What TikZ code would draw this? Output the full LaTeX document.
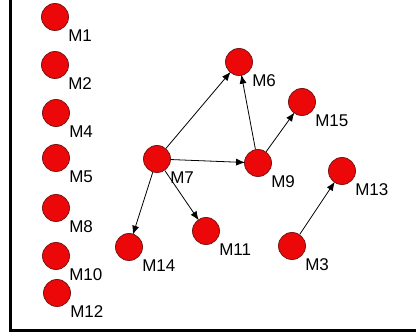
\documentclass[tikz,border=0pt]{standalone}
\usepackage{fontspec}
\setmainfont{Liberation Sans}
\usetikzlibrary{arrows.meta}
\definecolor{mred}{RGB}{236,8,8}
\definecolor{mrim}{RGB}{120,20,20}
\begin{document}
\begin{tikzpicture}[
		x=1pt, y=-1pt,
		mnode/.style={circle, draw=mrim, fill=mred, line width=0.8pt, minimum size=27pt, inner sep=0pt},
		every label/.style={anchor=west, inner sep=0pt, font=\fontsize{17}{20}\selectfont},
		label distance=9pt,
		arrow/.style={-{Latex[length=9pt,width=7pt]}, line width=0.8pt, shorten >=-1pt},
	]
	\useasboundingbox (0,0) rectangle (416,336);
	% frame on the left and at the bottom
	\draw[line width=3pt] (10,0) -- (10,330.5) -- (416,330.5);

	% column of single nodes
	\node[mnode, label={-55:M1}]  (m1)  at (55, 17)  {};
	\node[mnode, label={-55:M2}]  (m2)  at (55, 65)  {};
	\node[mnode, label={-55:M4}]  (m4)  at (56, 113) {};
	\node[mnode, label={-55:M5}]  (m5)  at (56, 158) {};
	\node[mnode, label={-55:M8}]  (m8)  at (56, 208) {};
	\node[mnode, label={-55:M10}] (m10) at (56, 256) {};
	\node[mnode, label={-55:M12}] (m12) at (57, 293) {};

	% connected nodes
	\node[mnode, label={-55:M7}]  (m7)  at (157, 159) {};
	\node[mnode, label={-55:M6}]  (m6)  at (239, 62)  {};
	\node[mnode, label={-55:M15}] (m15) at (302, 102) {};
	\node[mnode, label={-55:M9}]  (m9)  at (258, 163) {};
	\node[mnode, label={-55:M13}] (m13) at (342, 171) {};
	\node[mnode, label={-55:M14}] (m14) at (129, 247) {};
	\node[mnode, label={-55:M11}] (m11) at (206, 231) {};
	\node[mnode, label={-55:M3}]  (m3)  at (292, 246) {};

	\draw[arrow] (m7) -- (m6);
	\draw[arrow] (m7) -- (m9);
	\draw[arrow] (m9) -- (m6);
	\draw[arrow] (m9) -- (m15);
	\draw[arrow] (m7) -- (m14);
	\draw[arrow] (m7) -- (m11);
	\draw[arrow] (m3) -- (m13);
\end{tikzpicture}
\end{document}
